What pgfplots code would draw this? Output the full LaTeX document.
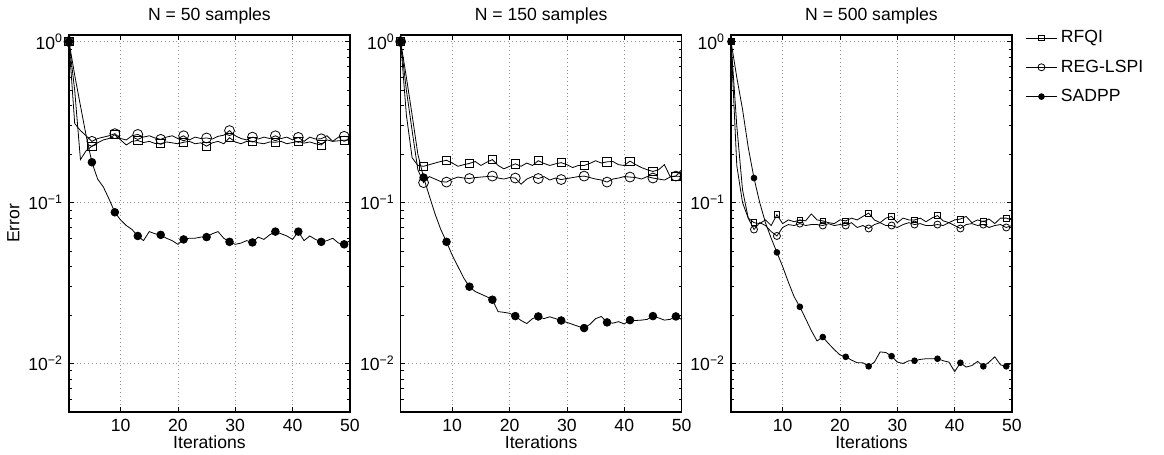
\documentclass[border=0pt]{standalone}
\usepackage{fontspec}
\setmainfont{Liberation Sans}
\usepackage{pgfplots}
\usepackage{pgfplotstable}
\pgfplotsset{compat=1.18}

\pgfplotstableread{
x rfqi reg sadpp
1 1.0 1.0 1.0
2 0.5 0.31 0.62
3 0.185 0.28 0.40
4 0.21 0.26 0.26
5 0.224 0.24 0.178
6 0.235 0.25 0.14
7 0.245 0.255 0.125
8 0.25 0.26 0.105
9 0.264 0.268 0.087
10 0.245 0.25 0.078
11 0.228 0.245 0.072
12 0.24 0.26 0.068
13 0.243 0.265 0.062
14 0.236 0.255 0.058
15 0.24 0.26 0.066
16 0.233 0.252 0.064
17 0.232 0.247 0.063
18 0.238 0.255 0.060
19 0.235 0.26 0.058
20 0.232 0.25 0.055
21 0.237 0.26 0.059
22 0.24 0.245 0.060
23 0.232 0.255 0.060
24 0.235 0.25 0.061
25 0.224 0.252 0.061
26 0.235 0.248 0.064
27 0.24 0.258 0.066
28 0.232 0.262 0.060
29 0.253 0.28 0.057
30 0.238 0.26 0.055
31 0.232 0.25 0.056
32 0.24 0.245 0.058
33 0.24 0.255 0.0565
34 0.235 0.248 0.061
35 0.232 0.255 0.059
36 0.238 0.25 0.063
37 0.237 0.26 0.066
38 0.24 0.25 0.064
39 0.232 0.255 0.062
40 0.236 0.245 0.059
41 0.24 0.254 0.066
42 0.234 0.24 0.058
43 0.238 0.255 0.062
44 0.232 0.248 0.059
45 0.228 0.249 0.057
46 0.245 0.26 0.058
47 0.24 0.24 0.060
48 0.242 0.255 0.056
49 0.244 0.258 0.055
50 0.245 0.255 0.058
}\dataA

\pgfplotstableread{
x rfqi reg sadpp
1 1.0 1.0 1.0
2 0.35 0.5 0.6
3 0.19 0.28 0.35
4 0.17 0.16 0.2
5 0.168 0.133 0.143
6 0.172 0.145 0.11
7 0.176 0.14 0.085
8 0.18 0.135 0.068
9 0.183 0.134 0.057
10 0.176 0.14 0.047
11 0.168 0.144 0.040
12 0.172 0.142 0.034
13 0.175 0.141 0.030
14 0.18 0.143 0.028
15 0.17 0.144 0.027
16 0.178 0.145 0.026
17 0.185 0.146 0.0249
18 0.17 0.142 0.021
19 0.162 0.14 0.0208
20 0.168 0.143 0.0205
21 0.174 0.142 0.0197
22 0.168 0.13 0.0185
23 0.176 0.14 0.0177
24 0.17 0.145 0.019
25 0.182 0.141 0.0196
26 0.175 0.145 0.019
27 0.17 0.138 0.0195
28 0.174 0.142 0.019
29 0.177 0.139 0.0185
30 0.172 0.141 0.018
31 0.165 0.143 0.0175
32 0.17 0.145 0.017
33 0.17 0.146 0.0166
34 0.175 0.143 0.0175
35 0.182 0.14 0.019
36 0.176 0.138 0.0196
37 0.179 0.134 0.018
38 0.18 0.14 0.0178
39 0.172 0.142 0.0182
40 0.17 0.145 0.0176
41 0.181 0.144 0.0186
42 0.172 0.143 0.0185
43 0.165 0.14 0.0186
44 0.16 0.145 0.0188
45 0.156 0.142 0.0197
46 0.16 0.14 0.0192
47 0.172 0.138 0.0186
48 0.145 0.144 0.0188
49 0.146 0.146 0.0196
50 0.16 0.145 0.0188
}\dataB

\pgfplotstableread{
x rfqi reg sadpp
1 1.0 1.0 1.0
2 0.17 0.3 0.6
3 0.1 0.12 0.38
4 0.08 0.08 0.22
5 0.075 0.068 0.142
6 0.074 0.075 0.1
7 0.078 0.072 0.075
8 0.072 0.066 0.06
9 0.084 0.062 0.049
10 0.074 0.07 0.04
11 0.078 0.073 0.032
12 0.076 0.072 0.026
13 0.078 0.074 0.0225
14 0.077 0.072 0.019
15 0.085 0.073 0.016
16 0.078 0.073 0.0138
17 0.077 0.072 0.0146
18 0.075 0.074 0.0133
19 0.074 0.072 0.0122
20 0.078 0.073 0.0113
21 0.077 0.072 0.011
22 0.08 0.075 0.0105
23 0.078 0.07 0.0101
24 0.082 0.072 0.0101
25 0.086 0.069 0.0096
26 0.078 0.073 0.0102
27 0.075 0.075 0.0118
28 0.08 0.072 0.0117
29 0.082 0.072 0.0111
30 0.075 0.07 0.0102
31 0.08 0.073 0.0100
32 0.078 0.075 0.0104
33 0.078 0.073 0.0104
34 0.08 0.074 0.0106
35 0.076 0.072 0.0107
36 0.08 0.072 0.0107
37 0.083 0.073 0.0107
38 0.077 0.072 0.0104
39 0.075 0.075 0.0102
40 0.078 0.072 0.0089
41 0.079 0.069 0.0101
42 0.082 0.073 0.0095
43 0.075 0.074 0.0097
44 0.078 0.072 0.0103
45 0.076 0.073 0.0096
46 0.079 0.07 0.0102
47 0.074 0.072 0.0110
48 0.08 0.073 0.0098
49 0.08 0.07 0.0096
50 0.078 0.072 0.0101
}\dataC

\pgfplotsset{
  every axis/.append style={
    scale only axis, width=175.6pt, height=235.6pt,
    xmin=1, xmax=50, ymin=0.005, ymax=1.1,
    xtick={10,20,30,40,50},
    ytick={0.01,0.1,1},
    yticklabels={10\textsuperscript{−2},10\textsuperscript{−1},10\textsuperscript{0}},
    minor ytick={0.006,0.007,0.008,0.009,0.02,0.03,0.04,0.05,0.06,0.07,0.08,0.09,0.2,0.3,0.4,0.5,0.6,0.7,0.8,0.9},
    xmajorgrids, ymajorgrids,
    grid style={dotted, gray!85, line width=0.45pt},
    axis line style={line width=0.8pt},
    tick style={black, line width=0.5pt},
    major tick length=3pt, minor tick length=1.8pt,
    xlabel={Iterations},
    xlabel style={yshift=5pt},
    xticklabel style={yshift=-1pt},
    title style={yshift=-3pt},
  },
  every axis plot/.append style={mark repeat=4, mark phase=1},
}
\tikzset{
  mysq/.style={black, line width=0.5pt, mark=square, mark size=2.6pt, mark options={solid}},
  myci/.style={black, line width=0.5pt, mark=o, mark size=3.1pt, mark options={solid}},
  mydot/.style={black, line width=0.5pt, mark=*, mark size=2.4pt, mark options={solid, fill=black}},
}

\begin{document}
\fontsize{11}{13}\selectfont
\begin{tikzpicture}
\useasboundingbox (0,0) rectangle (727.5pt,283.75pt);
\begin{semilogyaxis}[anchor=north west, at={(43.1pt,261.9pt)}, title={N = 50 samples}, ylabel={Error}, ylabel style={yshift=-2pt}, /pgf/number format/assume math mode=true]
\addplot[mysq] table[x=x,y=rfqi] {\dataA};
\addplot[myci] table[x=x,y=reg] {\dataA};
\addplot[mydot] table[x=x,y=sadpp] {\dataA};
\end{semilogyaxis}
\begin{semilogyaxis}[anchor=north west, at={(250.4pt,261.9pt)}, title={N = 150 samples}, /pgf/number format/assume math mode=true]
\addplot[mysq] table[x=x,y=rfqi] {\dataB};
\addplot[myci] table[x=x,y=reg] {\dataB};
\addplot[mydot] table[x=x,y=sadpp] {\dataB};
\end{semilogyaxis}
\begin{semilogyaxis}[anchor=north west, at={(456.9pt,261.9pt)}, title={N = 500 samples}, /pgf/number format/assume math mode=true,
  legend style={draw=none, fill=none, at={(1,1)}, anchor=north west, xshift=6pt, yshift=7pt, row sep=5pt, inner sep=2pt},
  legend cell align=left,
  legend image code/.code={\draw[mark repeat=2,mark phase=2,#1] plot coordinates {(0cm,0cm)(0.35cm,0cm)(0.7cm,0cm)};}]
\addplot[mysq, mark size=1.8pt] table[x=x,y=rfqi] {\dataC};
\addplot[myci, mark size=2.2pt] table[x=x,y=reg] {\dataC};
\addplot[mydot, mark size=1.8pt] table[x=x,y=sadpp] {\dataC};
\legend{RFQI,REG-LSPI,SADPP}
\end{semilogyaxis}
\end{tikzpicture}
\end{document}
